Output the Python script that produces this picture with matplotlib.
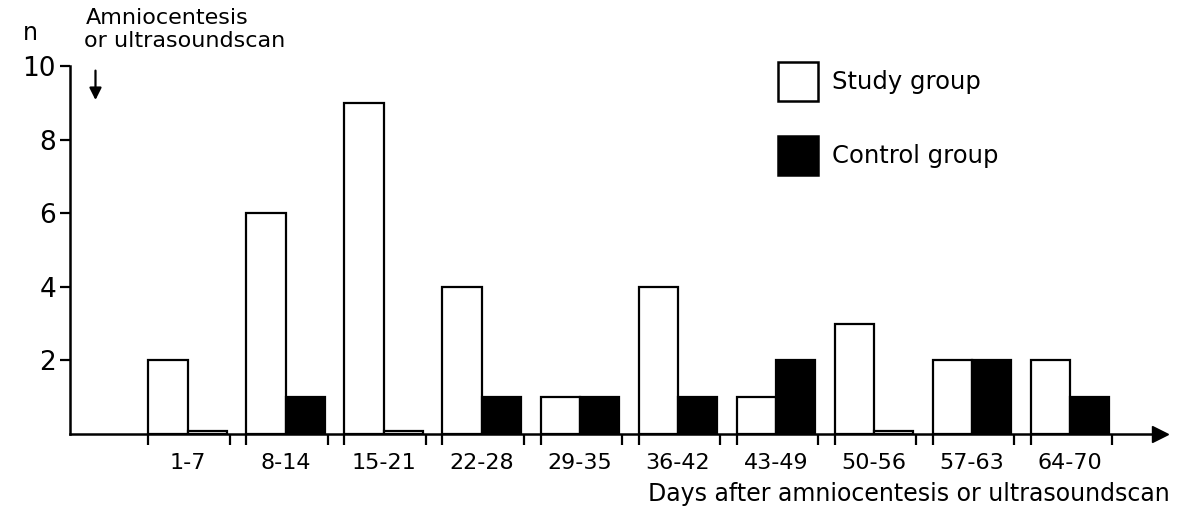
import numpy as np
import matplotlib.pyplot as plt
from matplotlib.patches import Rectangle

# --- Data ---
day_bins = ['1-7', '8-14', '15-21', '22-28', '29-35',
            '36-42', '43-49', '50-56', '57-63', '64-70']
study_group = [2, 6, 9, 4, 1, 4, 1, 3, 2, 2]
control_group = [0, 1, 0, 1, 1, 1, 2, 0, 2, 1]
legend_labels = ['Study group', 'Control group']

BAR_W = 0.4
ZERO_H = 0.07   # empty bins are drawn as a flat sliver, as in the original
W, H = 1181, 509


def fx(px):
    return px / W


def fy(py):
    return 1 - py / H


def main():
    plt.rcParams['font.family'] = ['DejaVu Sans']
    fig = plt.figure(figsize=(W / 100, H / 100), dpi=100)
    ax = fig.add_axes([fx(70), fy(434), fx(1160) - fx(70), fy(66) - fy(434)])

    x = np.arange(len(day_bins))
    study = np.array(study_group, dtype=float)
    control = np.array(control_group, dtype=float)

    ax.bar(x - BAR_W, study, width=BAR_W, align='edge',
           facecolor='white', edgecolor='black', linewidth=1.6)
    ax.bar(x, np.where(control == 0, ZERO_H, control), width=BAR_W, align='edge',
           facecolor=np.where(control == 0, 'white', 'black'),
           edgecolor='black', linewidth=1.6)

    ax.set_xlim(-1.2, 9.92)
    ax.set_ylim(0, 10)

    # spines: left axis and bottom axis with arrow
    for s in ['top', 'right']:
        ax.spines[s].set_visible(False)
    ax.spines['left'].set_linewidth(1.8)
    ax.spines['bottom'].set_linewidth(1.8)
    ax.plot(1.0, 0, marker='>', color='black', markersize=11,
            transform=ax.get_yaxis_transform(), clip_on=False)

    # y ticks
    ax.set_yticks([2, 4, 6, 8, 10])
    ax.tick_params(axis='y', direction='out', length=7, width=1.6,
                   labelsize=19, pad=3)

    # x: tick marks at bin edges, labels at bin centres
    edges = np.concatenate([x - BAR_W, x + BAR_W + 0.03])
    ax.set_xticks(edges)
    ax.set_xticklabels([])
    ax.tick_params(axis='x', which='major', direction='out', length=8, width=1.6)
    ax.set_xticks(x, minor=True)
    ax.set_xticklabels(day_bins, minor=True)
    ax.tick_params(axis='x', which='minor', length=0, labelsize=16, pad=14)

    fig.text(fx(1170), fy(501), 'Days after amniocentesis or ultrasoundscan',
             ha='right', va='baseline', fontsize=17)

    # y label "n" and the event annotation above the axis
    fig.text(fx(30), fy(40), 'n', fontsize=17, ha='center', va='baseline')
    fig.text(fx(86), fy(24), 'Amniocentesis', fontsize=16, ha='left', va='baseline')
    fig.text(fx(84), fy(47), 'or ultrasoundscan', fontsize=16, ha='left', va='baseline')
    ax.annotate('', xy=(-0.94, 9.0), xytext=(-0.94, 9.95),
                arrowprops=dict(arrowstyle='-|>', color='black', lw=1.6,
                                mutation_scale=18),
                annotation_clip=False)

    # legend drawn as two boxes with labels
    for (top, face, label) in [(62, 'white', legend_labels[0]),
                               (136, 'black', legend_labels[1])]:
        fig.add_artist(Rectangle((fx(778), fy(top + 39)), fx(40), fy(0) - fy(39),
                                 facecolor=face, edgecolor='black', linewidth=1.8,
                                 transform=fig.transFigure))
        fig.text(fx(832), fy(top + 20), label, fontsize=17.5, ha='left', va='center')

    fig.savefig('out.png', dpi=100)


if __name__ == "__main__":
    main()
